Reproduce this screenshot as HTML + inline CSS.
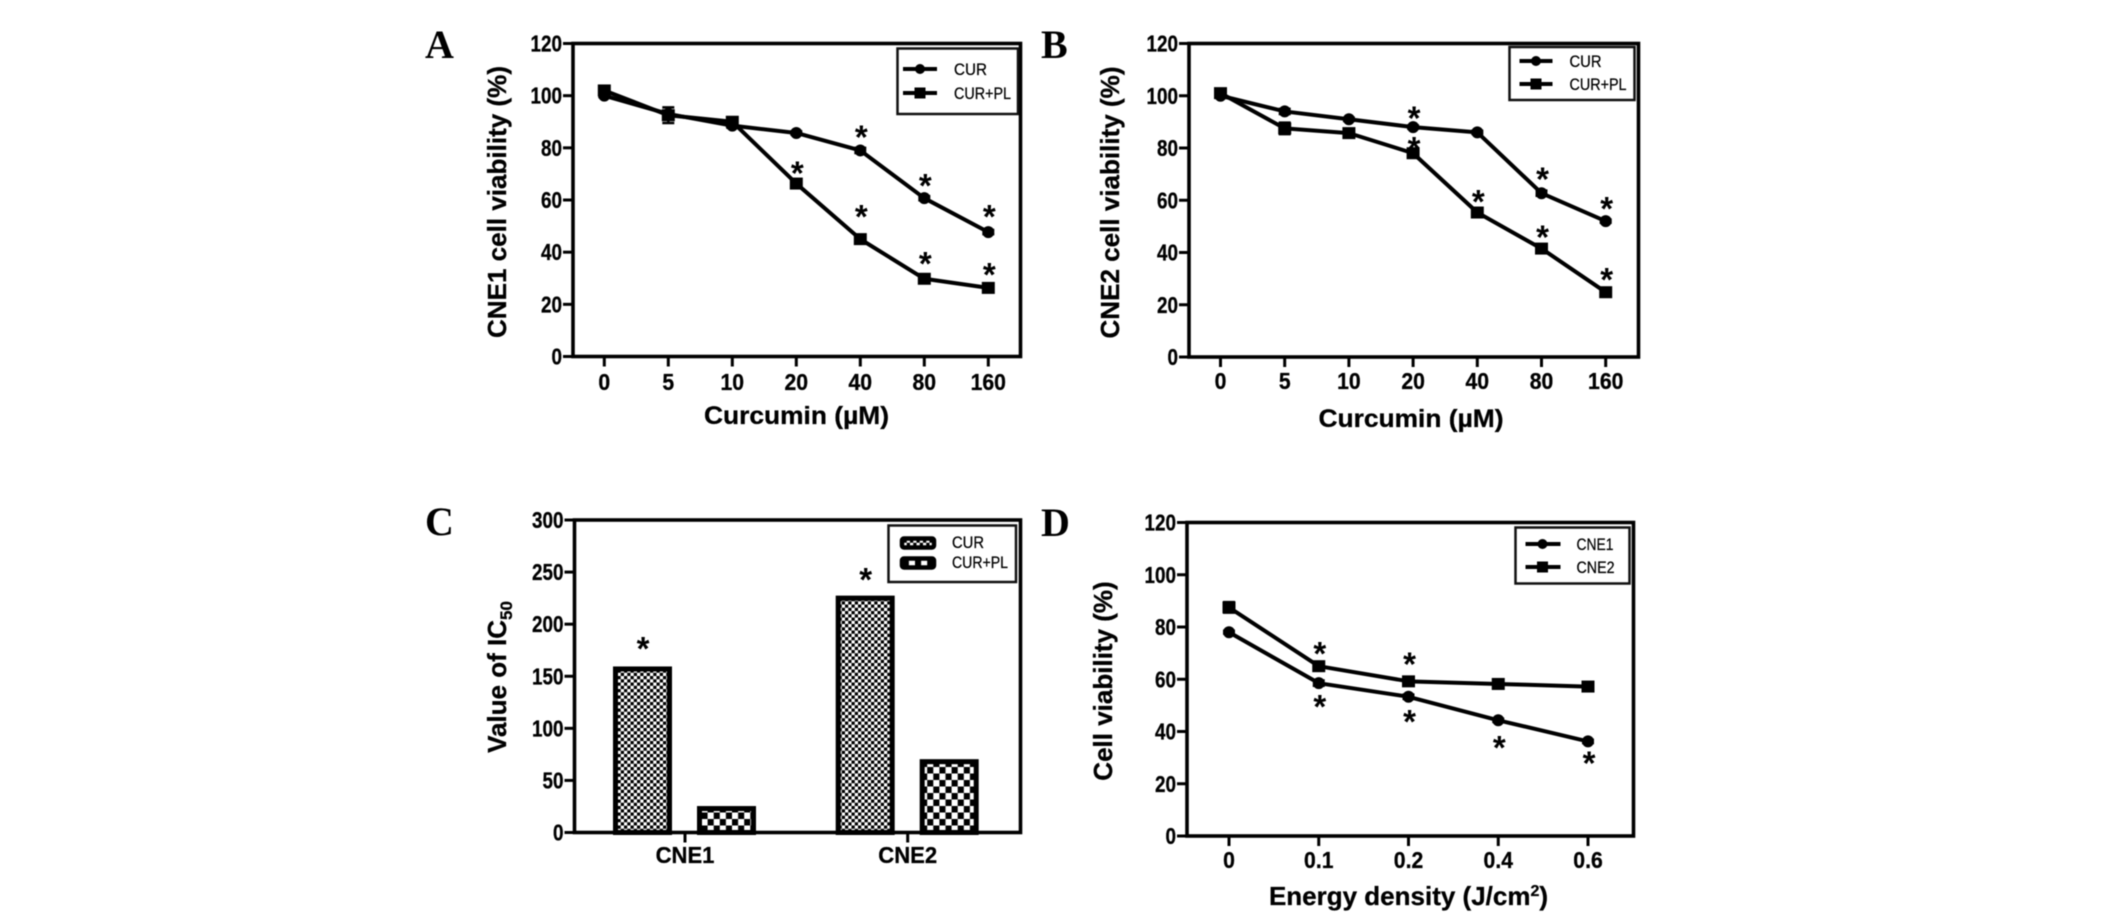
<!DOCTYPE html>
<html lang="en">
<head>
<meta charset="utf-8">
<title>Curcumin cell viability figure</title>
<style>
html,body{margin:0;padding:0;background:#fff;width:2126px;height:919px;overflow:hidden}
svg{display:block;filter:blur(.45px)}
text{font-family:"Liberation Sans",sans-serif;fill:#000}
.b{font-weight:700;stroke:#000;stroke-width:.3}
.letter{font-family:"Liberation Serif",serif;font-weight:700;font-size:40px}
.lg{font-size:17px;stroke:#000;stroke-width:.25}
.lgl{stroke:#000;stroke-width:4;fill:none}
.lgb{fill:#fff;stroke:#111;stroke-width:2.5}
</style>
</head>
<body>
<svg id="figure" xmlns="http://www.w3.org/2000/svg" width="2126" height="919" viewBox="0 0 2126 919">
<defs>
<pattern id="fine-check" width="6.5" height="6.5" patternUnits="userSpaceOnUse">
<rect width="6.5" height="6.5" fill="#fff"/><rect width="3.25" height="3.25" fill="#000"/><rect x="3.25" y="3.25" width="3.25" height="3.25" fill="#000"/>
</pattern>
<pattern id="coarse-check" width="12.2" height="13" patternUnits="userSpaceOnUse">
<rect width="12.2" height="13" fill="#fff"/><rect width="6.1" height="6.5" fill="#000"/><rect x="6.1" y="6.5" width="6.1" height="6.5" fill="#000"/>
</pattern>
</defs>

<text class="letter" x="425" y="58">A</text>
<text class="letter" x="1041" y="58">B</text>
<text class="letter" x="425" y="535">C</text>
<text class="letter" x="1041" y="536">D</text>

<!-- axis titles -->
<text class="b" font-size="26" text-anchor="middle" textLength="272" lengthAdjust="spacingAndGlyphs" transform="translate(506,202) rotate(-90)">CNE1 cell viability (%)</text>
<text class="b" font-size="25" x="796.5" y="424" text-anchor="middle" textLength="185" lengthAdjust="spacingAndGlyphs">Curcumin (µM)</text>
<text class="b" font-size="26" text-anchor="middle" textLength="272" lengthAdjust="spacingAndGlyphs" transform="translate(1119,202.5) rotate(-90)">CNE2 cell viability (%)</text>
<text class="b" font-size="25" x="1411" y="427" text-anchor="middle" textLength="185" lengthAdjust="spacingAndGlyphs">Curcumin (µM)</text>
<text class="b" font-size="26" text-anchor="middle" transform="translate(506,677) rotate(-90)">Value of IC<tspan font-size="17" dy="6">50</tspan></text>
<text class="b" font-size="26" text-anchor="middle" transform="translate(1112,681) rotate(-90)">Cell viability (%)</text>
<text class="b" font-size="26" x="1408.5" y="905" text-anchor="middle">Energy density (J/cm<tspan font-size="16" dy="-9">2</tspan><tspan dy="9">)</tspan></text>

<g id="panel-a"></g>
<g id="panel-b"></g>
<g id="panel-c"></g>
<g id="panel-d"></g>

<!-- legends -->
<g>
<rect class="lgb" x="897.5" y="48.5" width="120.5" height="65.5"/>
<g><line class="lgl" x1="903" y1="69" x2="937" y2="69"/><circle cx="920" cy="69" r="5"/><text class="lg" x="954" y="75" textLength="33" lengthAdjust="spacingAndGlyphs">CUR</text></g>
<g><line class="lgl" x1="903" y1="93" x2="937" y2="93"/><rect x="914.5" y="87.5" width="11" height="11"/><text class="lg" x="954" y="99" textLength="57" lengthAdjust="spacingAndGlyphs">CUR+PL</text></g>
</g>
<g transform="translate(-2.5,0)">
<rect class="lgb" x="1512" y="47" width="125" height="53"/>
<g><line class="lgl" x1="1522" y1="61" x2="1555" y2="61"/><circle cx="1538.5" cy="61" r="5"/><text class="lg" x="1572" y="67" textLength="32" lengthAdjust="spacingAndGlyphs">CUR</text></g>
<g><line class="lgl" x1="1522" y1="84" x2="1555" y2="84"/><rect x="1533" y="78.5" width="11" height="11"/><text class="lg" x="1572" y="90" textLength="57" lengthAdjust="spacingAndGlyphs">CUR+PL</text></g>
</g>
<g>
<rect class="lgb" x="888.5" y="525.5" width="127.5" height="56.5"/>
<g><rect x="902" y="538.5" width="32" height="9" rx="2" fill="url(#fine-check)" stroke="#000" stroke-width="4.5"/><text class="lg" x="952" y="548" textLength="32" lengthAdjust="spacingAndGlyphs">CUR</text></g>
<g><rect x="902" y="558.5" width="32" height="9" rx="2" fill="url(#coarse-check)" stroke="#000" stroke-width="4.5"/><text class="lg" x="952" y="568" textLength="56" lengthAdjust="spacingAndGlyphs">CUR+PL</text></g>
</g>
<g transform="translate(-2.5,0)">
<rect class="lgb" x="1518" y="527.5" width="114" height="56"/>
<g><line class="lgl" x1="1528" y1="544" x2="1563" y2="544"/><circle cx="1545" cy="544" r="5"/><text class="lg" x="1579" y="550" textLength="37" lengthAdjust="spacingAndGlyphs">CNE1</text></g>
<g><line class="lgl" x1="1528" y1="567" x2="1563" y2="567"/><rect x="1539.5" y="561.5" width="11" height="11"/><text class="lg" x="1579" y="573" textLength="38" lengthAdjust="spacingAndGlyphs">CNE2</text></g>
</g>
</svg>

<script>
// Shared tick labels
const viabilityTicks = [0, 20, 40, 60, 80, 100, 120];
const doseCategories = ['0', '5', '10', '20', '40', '80', '160'];
const energyCategories = ['0', '0.1', '0.2', '0.4', '0.6'];
const cellCategories = ['CNE1', 'CNE2'];
const ic50Ticks = [0, 50, 100, 150, 200, 250, 300];

// Panel A values
const aCur = [100, 93, 88.5, 85.7, 79, 60.7, 47.7];
const aCurErr = [0.5, 1, 0.8, 0.6, 1, 0.8, 0.8];
const aPl = [102, 92.5, 90, 66.3, 45, 29.8, 26.3];
const aPlErr = [1, 3, 1, 0.8, 0.8, 0.8, 0.8];
const aCurStars = [null, null, null, null, 86.2, 67.7, 55.8];
const aPlStars = [null, null, null, 72.4, 55.8, 37.7, 33.5];

// Panel B values
const bCur = [100, 94, 91, 88, 86, 62.7, 52];
const bCurErr = [0.5, 1, 0.6, 0.6, 0.6, 1, 0.6];
const bPl = [101, 87.5, 85.7, 78, 55.3, 41.5, 24.8];
const bPlErr = [1, 2.2, 1, 0.8, 1, 1, 0.8];
const bCurStars = [null, null, null, 93.5, null, 70.3, 58.9];
const bPlStars = [null, null, null, 82, 61.7, 48, 31.8];

// Panel C values
const cCur = [157, 225];
const cPl = [23, 68];
const cCurStars = [182, 248];

// Panel D values
const dCne1 = [78, 58.5, 53.3, 44.3, 36.2];
const dCne1Err = [0.5, 1, 0.8, 0.6, 0.6];
const dCne2 = [87.5, 65, 59.2, 58.2, 57.2];
const dCne2Err = [2, 1, 0.8, 0.8, 1];
const dCne1Stars = [null, 51.6, 46, 36, 30];
const dCne2Stars = [null, 72, 68, null, null];

const NS = 'http://www.w3.org/2000/svg';
function make(tag, attrs, parent) {
  const n = document.createElementNS(NS, tag);
  for (const k in attrs) n.setAttribute(k, attrs[k]);
  parent.appendChild(n);
  return n;
}

function drawFrame(root, box, yMax, yTicks, xFn, xLabels, xBase, xScale) {
  const yFn = v => box.bottom - (v / yMax) * (box.bottom - box.top);
  const frame = make('rect', {x: box.left, y: box.top, width: box.right - box.left, height: box.bottom - box.top, fill: 'none', stroke: '#000', 'stroke-width': 3.6}, root);
  
  
  yTicks.forEach(v => {
    const tick = make('line', {x1: box.left - 10, x2: box.left, y1: yFn(v), y2: yFn(v), stroke: '#000', 'stroke-width': 3}, root);
    
    
    const label = make('text', {class: 'b', 'font-size': 23, 'text-anchor': 'end', transform: `translate(${box.left - 11},${yFn(v) + 8}) scale(.82,1)`}, root);
    label.textContent = v;
    
    
  });
  xLabels.forEach((c, i) => {
    const tick = make('line', {x1: xFn(i), x2: xFn(i), y1: box.bottom, y2: box.bottom + 10, stroke: '#000', 'stroke-width': 3}, root);
    
    
    const label = make('text', {class: 'b', 'font-size': 23, 'text-anchor': 'middle', transform: `translate(${xFn(i)},${xBase}) scale(${xScale},1)`}, root);
    label.textContent = c;
    
    
  });
  return yFn;
}

function drawLine(root, values, errors, shape, xFn, yFn, seriesName) {
  const pts = values.map((v, i) => xFn(i) + ',' + yFn(v)).join(' ');
  const line = make('polyline', {points: pts, fill: 'none', stroke: '#000', 'stroke-width': 4, 'stroke-linejoin': 'round'}, root);
  
  
  values.forEach((v, i) => {
    const x = xFn(i), y = yFn(v);
    const e = errors[i];
    const eb = make('path', {d: `M${x},${yFn(v - e)}V${yFn(v + e)}M${x - 6},${yFn(v + e)}H${x + 6}M${x - 6},${yFn(v - e)}H${x + 6}`, stroke: '#000', 'stroke-width': 2.5, fill: 'none'}, root);
    
    
    let m;
    if (shape === 'circle') {
      m = make('circle', {cx: x, cy: y, r: 6}, root);
    } else {
      m = make('rect', {x: x - 6.5, y: y - 6, width: 13, height: 12}, root);
    }
    
    
  });
}

function drawStars(root, stars, xFn, yFn) {
  stars.forEach((v, i) => {
    if (v === null) return;
    const s = make('text', {x: xFn(i) + 1, y: yFn(v) + 17, 'font-size': 33, 'font-weight': 700, 'text-anchor': 'middle'}, root);
    s.textContent = '*';
    
    
  });
}

function drawLinePanel(id, box, cats, xFirst, xStep, xBase, xScale, seriesA, errA, starsA, nameA, seriesB, errB, starsB, nameB) {
  const root = document.getElementById(id);
  const xFn = i => xFirst + i * xStep;
  const yFn = drawFrame(root, box, 120, viabilityTicks, xFn, cats, xBase, xScale);
  drawLine(root, seriesA, errA, 'circle', xFn, yFn, nameA);
  drawLine(root, seriesB, errB, 'square', xFn, yFn, nameB);
  drawStars(root, starsA, xFn, yFn);
  drawStars(root, starsB, xFn, yFn);
}

drawLinePanel('panel-a', {left: 573, right: 1020.5, top: 43.5, bottom: 356.5}, doseCategories, 604.3, 64, 390, .92,
  aCur, aCurErr, aCurStars, 'cur', aPl, aPlErr, aPlStars, 'cur-pl');
drawLinePanel('panel-b', {left: 1189, right: 1638.5, top: 43.5, bottom: 357}, doseCategories, 1220.5, 64.2, 389, .92,
  bCur, bCurErr, bCurStars, 'cur', bPl, bPlErr, bPlStars, 'cur-pl');
drawLinePanel('panel-d', {left: 1187, right: 1633.5, top: 522.5, bottom: 836}, energyCategories, 1229, 89.75, 868, .92,
  dCne1, dCne1Err, dCne1Stars, 'cne1', dCne2, dCne2Err, dCne2Stars, 'cne2');

(function drawBarPanel() {
  const root = document.getElementById('panel-c');
  const box = {left: 574.5, right: 1020.5, top: 520, bottom: 832.5};
  const xFn = i => 685 + i * 222.7;
  const yFn = drawFrame(root, box, 300, ic50Ticks, xFn, cellCategories, 863, .96);
  const barW = 54;
  cellCategories.forEach((c, i) => {
    const b1 = make('rect', {x: xFn(i) - 42.5 - barW / 2, y: yFn(cCur[i]), width: barW, height: yFn(0) - yFn(cCur[i]), fill: 'url(#fine-check)', stroke: '#000', 'stroke-width': 5}, root);
    
    
    const b2 = make('rect', {x: xFn(i) + 41.5 - barW / 2, y: yFn(cPl[i]), width: barW, height: yFn(0) - yFn(cPl[i]), fill: 'url(#coarse-check)', stroke: '#000', 'stroke-width': 5}, root);
    
    
  });
  drawStars(root, cCurStars, i => xFn(i) - 43, yFn);
})();
</script>
</body>
</html>
